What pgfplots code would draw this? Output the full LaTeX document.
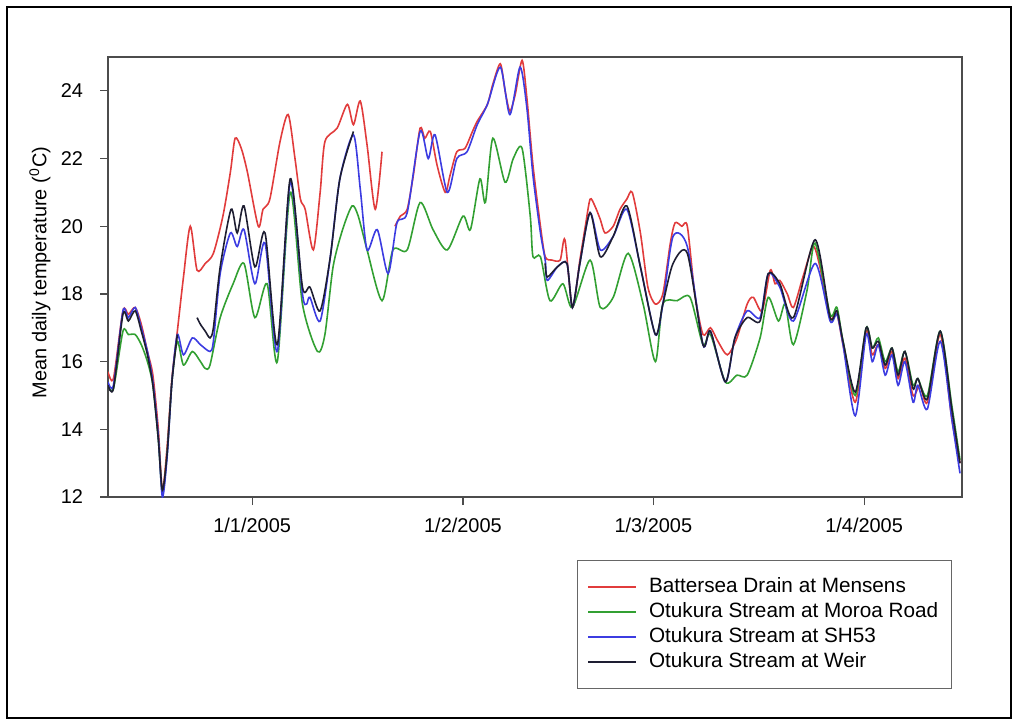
\documentclass[border=0pt]{standalone}
\usepackage{fontspec}
\setmainfont{Liberation Sans}
\usepackage{pgfplots}
\pgfplotsset{compat=1.18}
\definecolor{cred}{RGB}{225,60,60}
\definecolor{cgreen}{RGB}{50,160,50}
\definecolor{cblue}{RGB}{60,60,225}
\definecolor{cblack}{RGB}{30,30,50}
\begin{document}
\begin{tikzpicture}[x=1bp,y=1bp]
\path[use as bounding box] (0,0) rectangle (509.5,363.5);
\draw[line width=1bp] (3.5,4.5) rectangle (505.5,360);
\begin{axis}[
  at={(54bp,115bp)}, anchor=south west, scale only axis,
  width=427bp, height=220bp,
  xmin=-21.2, xmax=104.4, ymin=12, ymax=25,
  xtick={0,31,59,90},
  xticklabels={1/1/2005,1/2/2005,1/3/2005,1/4/2005},
  ytick={12,14,16,18,20,22,24},
  tick align=outside, tick pos=left, major tick length=4bp,
  axis line style={draw=black!70, line width=0.8bp},
  tick style={draw=black!70, line width=0.6bp},
  ticklabel style={font=\fontsize{10}{12}\selectfont},
  /pgf/number format/assume math mode=true,
  yticklabel style={xshift=-5bp},
  xticklabel style={yshift=-3bp},
  ylabel={Mean daily temperature (\textsuperscript{0}C)},
  ylabel style={at={(axis description cs:-0.0796,0.51)}, anchor=center, font=\fontsize{10}{12}\selectfont},
  unbounded coords=jump,
  legend style={at={(0.549,-0.143)}, anchor=north west, draw=black!60, line width=0.6bp,
    font=\fontsize{10.4}{12}\selectfont, cells={anchor=west}, inner xsep=5bp, inner ysep=7bp,
    row sep=0pt, nodes={inner sep=1.5bp, text height=7.5bp, text depth=2bp},
    /tikz/every odd column/.append style={column sep=4.5bp}},
  legend image code/.code={\draw[#1] (0bp,0bp) -- (24bp,0bp);},
  every axis plot/.append style={line width=0.8bp, smooth, tension=0.45},
]
% Battersea Drain at Mensens
\addplot[cred] coordinates {
(-21.2,15.7) (-20.4,15.5) (-19.0,17.5) (-18.2,17.4) (-17.2,17.6) (-16.3,17.1) (-15.4,16.3) (-14.6,15.6) (-13.8,14.0) (-13.2,12.2) (-12.5,13.5) (-11.8,15.5) (-11.0,16.9) (-10.1,18.5) (-9.1,20.0) (-8.1,18.7) (-6.9,18.9) (-5.7,19.2) (-4.3,20.3) (-3.2,21.6) (-2.5,22.6) (-1.6,22.3) (-0.7,21.6) (0.9,20.0) (1.6,20.5) (2.6,20.8) (4.1,22.5) (5.3,23.3) (6.3,22.0) (7.1,20.8) (7.8,20.5) (9.0,19.3) (10.0,21.0) (10.7,22.5) (12.5,22.9) (14.0,23.6) (14.9,23.0) (15.9,23.7) (16.9,22.4) (18.1,20.5) (19.1,22.2)
(20.0,nan)
(21.0,20.0) (21.8,20.3) (22.8,20.5) (23.7,21.5) (24.7,22.9) (25.4,22.6) (26.2,22.8) (27.2,21.8) (28.4,21.0) (29.1,21.5) (30.1,22.2) (31.3,22.3) (32.4,22.8) (33.1,23.1) (34.6,23.6) (35.4,24.2) (36.5,24.8) (37.2,24.0) (37.9,23.4) (38.7,23.9) (39.7,24.9) (40.4,23.8) (41.3,21.8) (42.4,20.0) (43.1,19.1) (44.1,19.0) (45.3,19.0) (46.0,19.6) (47.1,17.6) (48.2,19.0) (49.0,20.0) (49.7,20.8) (50.4,20.6) (51.2,20.2) (51.9,19.8) (53.1,20.0) (54.1,20.5) (55.1,20.8) (55.9,21.0) (57.1,19.8) (58.2,18.2) (59.3,17.7) (60.4,18.0) (61.5,19.5) (62.2,20.1) (63.2,20.0) (64.0,20.0) (65.1,18.0) (66.3,16.8) (67.4,17.0) (68.5,16.6) (69.9,16.2) (71.3,16.7) (72.8,17.7) (73.7,17.9) (75.0,17.5) (76.2,18.7) (76.9,18.3) (77.6,18.4) (78.7,18.0) (79.6,17.6) (81.0,18.5) (82.5,19.4) (83.5,18.8) (85.0,17.3) (86.0,17.4) (86.9,16.5) (88.7,14.8) (90.3,16.9) (91.2,16.2) (92.1,16.5) (93.1,15.8) (94.1,16.3) (95.0,15.5) (96.0,16.1) (97.2,15.0) (98.2,15.3) (99.3,14.8) (101.2,16.8) (102.9,14.3) (104.1,13.0)
};
\addlegendentry{Battersea Drain at Mensens}
% Otukura Stream at Moroa Road
\addplot[cgreen] coordinates {
(-21.2,15.3) (-20.4,15.2) (-19.0,16.9) (-18.2,16.8) (-17.2,16.8) (-16.3,16.5) (-15.4,16.0) (-14.6,15.3) (-13.8,13.7) (-13.2,12.1) (-12.5,13.3) (-11.8,15.4) (-11.0,16.6) (-10.1,15.9) (-8.8,16.3) (-7.6,16.0) (-6.9,15.8) (-6.2,15.9) (-4.7,17.3) (-2.8,18.3) (-1.2,18.9) (0.4,17.3) (2.2,18.3) (3.7,16.0) (5.6,21.0) (7.4,17.7) (9.6,16.3) (10.7,16.8) (11.9,18.8) (13.3,19.9) (14.7,20.6) (15.6,20.3) (16.9,19.3) (19.1,17.8) (20.7,19.3) (22.8,19.3) (24.7,20.7) (26.6,19.9) (28.7,19.3) (31.0,20.3) (32.1,19.9) (33.5,21.4) (34.3,20.7) (35.4,22.6) (37.2,21.3) (38.4,22.0) (39.7,22.3) (40.9,20.3) (41.3,19.1) (42.4,19.1) (43.8,17.8) (45.7,18.3) (47.1,17.6) (49.7,19.0) (51.2,17.6) (53.1,17.9) (55.3,19.2) (57.5,17.7) (59.3,16.0) (60.4,17.7) (62.5,17.8) (64.4,17.9) (66.3,16.5) (67.4,16.8) (69.6,15.4) (71.3,15.6) (72.8,15.6) (74.7,16.7) (75.9,17.9) (77.4,17.2) (78.4,17.7) (79.6,16.5) (81.6,18.1) (82.8,19.5) (85.0,17.4) (86.0,17.6) (86.9,16.6) (88.7,15.0) (90.3,17.0) (91.2,16.4) (92.1,16.7) (93.1,16.0) (94.1,16.4) (95.0,15.7) (96.0,16.3) (97.2,15.3) (97.9,15.5) (99.3,15.0) (101.2,16.9) (102.9,14.7) (104.1,13.1)
};
\addlegendentry{Otukura Stream at Moroa Road}
% Otukura Stream at SH53
\addplot[cblue] coordinates {
(-21.2,15.4) (-20.4,15.3) (-19.0,17.5) (-18.2,17.3) (-17.2,17.6) (-16.3,17.0) (-15.4,16.3) (-14.6,15.4) (-13.8,13.8) (-13.2,12.0) (-12.5,13.2) (-11.8,15.4) (-11.0,16.8) (-10.1,16.2) (-8.8,16.7) (-7.6,16.5) (-6.2,16.3) (-5.7,16.6) (-4.7,18.6) (-3.2,19.8) (-2.2,19.4) (-1.2,19.9) (0.4,18.3) (1.9,19.5) (3.7,16.3) (5.6,21.3) (7.4,18.0) (8.0,17.7) (8.5,17.9) (10.0,17.2) (11.5,19.1) (12.9,21.4) (14.9,22.7) (15.9,21.1) (16.9,19.3) (18.4,19.9) (20.0,18.6) (21.3,20.1) (22.8,20.4) (24.7,22.8) (25.9,22.0) (26.9,22.7) (28.7,21.0) (30.1,22.0) (31.6,22.2) (33.1,23.0) (34.6,23.6) (36.5,24.7) (37.9,23.3) (39.4,24.7) (40.4,23.5) (41.3,21.5) (42.4,19.8) (43.1,19.0) (43.4,18.4) (44.9,18.8) (46.3,18.9) (47.1,17.6) (48.2,18.9) (49.7,20.4) (51.2,19.3) (53.1,19.7) (55.1,20.5) (57.1,18.8) (59.3,16.8) (60.4,17.7) (61.9,19.7) (64.0,19.4) (66.3,16.5) (67.4,16.9) (69.6,15.4) (71.0,16.7) (72.8,17.5) (74.7,17.3) (75.9,18.6) (77.6,18.2) (79.6,17.2) (82.8,18.9) (85.0,17.2) (86.0,17.4) (86.9,16.5) (88.7,14.4) (90.3,16.8) (91.2,16.0) (92.1,16.5) (93.1,15.6) (94.1,16.2) (95.0,15.3) (96.0,16.0) (97.2,14.8) (97.9,15.3) (99.3,14.6) (101.2,16.6) (102.9,14.3) (104.1,12.7)
};
\addlegendentry{Otukura Stream at SH53}
% Otukura Stream at Weir
\addplot[cblack] coordinates {
(-21.2,15.3) (-20.4,15.2) (-19.0,17.4) (-18.2,17.2) (-17.2,17.5) (-16.3,16.9) (-15.4,16.2) (-14.6,15.3) (-13.8,13.7) (-13.2,12.2) (-12.5,13.3) (-11.8,15.4) (-11.0,16.8)
(-9.5,nan)
(-8.1,17.3) (-7.6,17.1) (-6.9,16.9) (-6.2,16.7) (-5.7,17.0) (-4.7,18.8) (-3.1,20.5) (-2.2,19.8) (-1.2,20.6) (0.4,18.8) (1.9,19.8) (3.7,16.5) (5.6,21.4) (7.4,18.2) (8.5,18.2) (10.0,17.5) (11.5,19.1) (12.9,21.4) (14.9,22.8)
(30.0,nan)
(43.1,18.9) (43.4,18.5) (44.9,18.8) (46.3,18.9) (47.1,17.6) (48.2,18.9) (49.7,20.4) (51.2,19.1) (53.1,19.7) (55.1,20.6) (57.1,18.8) (59.3,16.8) (60.4,17.7) (61.9,18.9) (64.0,19.2) (66.3,16.5) (67.4,16.9) (69.6,15.4) (71.0,16.7) (72.8,17.3) (74.7,17.2) (75.9,18.6) (77.6,18.3) (79.6,17.3) (82.8,19.6) (85.0,17.3) (86.0,17.5) (86.9,16.6) (88.7,15.1) (90.3,17.0) (91.2,16.4) (92.1,16.6) (93.1,15.9) (94.1,16.4) (95.0,15.6) (96.0,16.3) (97.2,15.2) (97.9,15.5) (99.3,14.9) (101.2,16.9) (102.9,14.6) (104.1,13.0)
};
\addlegendentry{Otukura Stream at Weir}
\end{axis}
\end{tikzpicture}
\end{document}
